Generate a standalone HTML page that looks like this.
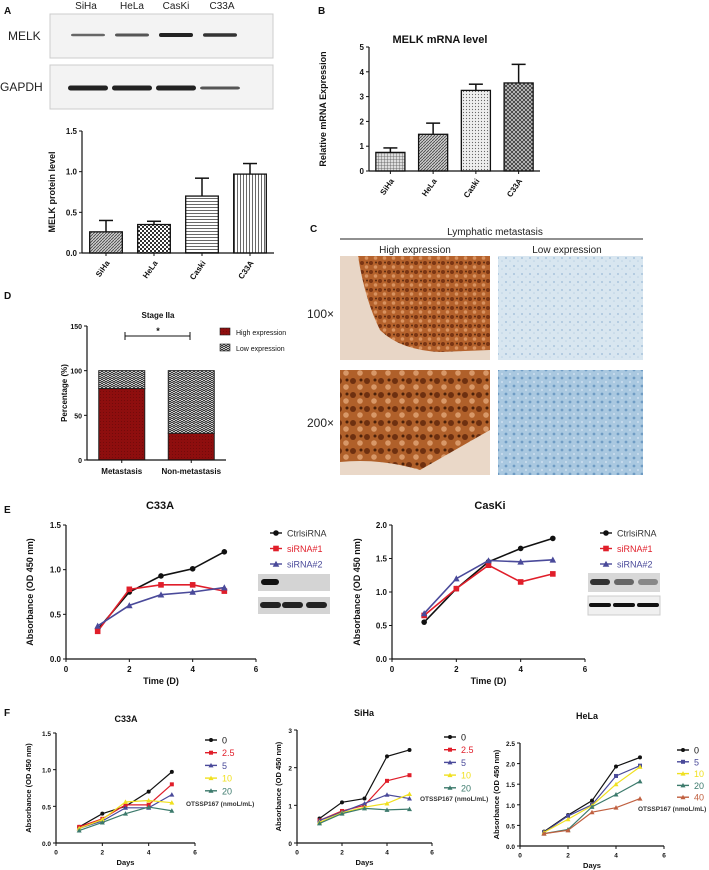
<!DOCTYPE html>
<html><head><meta charset="utf-8">
<style>
html,body{margin:0;padding:0;background:#fff;}
svg{display:block;font-family:"Liberation Sans",Arial,sans-serif;}
</style></head>
<body>
<svg id="fig" width="709" height="870" viewBox="0 0 709 870" xmlns="http://www.w3.org/2000/svg">
<defs>
  <pattern id="pGrid" width="3" height="3" patternUnits="userSpaceOnUse"><rect width="3" height="3" fill="#ddd"/><path d="M0 0H3M0 0V3" stroke="#555" stroke-width="0.8"/></pattern>
  <pattern id="pCheck" width="4" height="4" patternUnits="userSpaceOnUse"><rect width="4" height="4" fill="#fff"/><rect width="2" height="2" fill="#333"/><rect x="2" y="2" width="2" height="2" fill="#333"/></pattern>
  <pattern id="pHor" width="4" height="3" patternUnits="userSpaceOnUse"><rect width="4" height="3" fill="#fff"/><path d="M0 0.5H4" stroke="#444" stroke-width="0.8"/></pattern>
  <pattern id="pVer" width="3" height="4" patternUnits="userSpaceOnUse"><rect width="3" height="4" fill="#fff"/><path d="M0.5 0V4" stroke="#444" stroke-width="0.8"/></pattern>
  <pattern id="pDiag" width="3" height="3" patternUnits="userSpaceOnUse"><rect width="3" height="3" fill="#ccc"/><path d="M0 3L3 0" stroke="#444" stroke-width="0.8"/></pattern>
  <pattern id="pDiag2" width="4" height="4" patternUnits="userSpaceOnUse"><rect width="4" height="4" fill="#ccc"/><path d="M0 4L4 0M0 0L4 4" stroke="#333" stroke-width="0.8"/></pattern>
  <pattern id="pDot" width="3" height="3" patternUnits="userSpaceOnUse"><rect width="3" height="3" fill="#eee"/><circle cx="1.5" cy="1.5" r="0.6" fill="#666"/></pattern>
  <pattern id="pRed" width="3" height="3" patternUnits="userSpaceOnUse"><rect width="3" height="3" fill="#8e0e0e"/><circle cx="1.5" cy="1.5" r="0.5" fill="#6a0808"/></pattern>
  <pattern id="pLow" width="4" height="4" patternUnits="userSpaceOnUse"><rect width="4" height="4" fill="#fff"/><path d="M0 0L2 2L4 0M0 2L2 4L4 2" stroke="#222" stroke-width="0.9" fill="none"/></pattern>
  <pattern id="pBrown" width="9" height="9" patternUnits="userSpaceOnUse"><rect width="9" height="9" fill="#b5622c"/><circle cx="2" cy="2" r="2" fill="#7a3513"/><circle cx="6.5" cy="6" r="1.8" fill="#d89260"/><circle cx="7" cy="1.5" r="1" fill="#5a2a10"/></pattern>
  <pattern id="pBrownBig" width="14" height="14" patternUnits="userSpaceOnUse"><rect width="14" height="14" fill="#b0602a"/><circle cx="3" cy="3" r="3" fill="#6e3010"/><circle cx="10" cy="9" r="2.8" fill="#d89868"/><circle cx="11" cy="2" r="1.5" fill="#4a200a"/></pattern>
  <pattern id="pBlue" width="8" height="8" patternUnits="userSpaceOnUse"><rect width="8" height="8" fill="#d8e6f0"/><circle cx="2" cy="2" r="1" fill="#a8c4dc"/><circle cx="6" cy="5" r="0.8" fill="#bcd2e4"/></pattern>
  <pattern id="pBlue2" width="8" height="8" patternUnits="userSpaceOnUse"><rect width="8" height="8" fill="#a9c8e0"/><circle cx="2" cy="2" r="1.4" fill="#6f9cc4"/><circle cx="6" cy="6" r="1.1" fill="#c8dced"/></pattern>
</defs>
<g id="root"></g>
</svg>
<script>
// ---- data: panel A protein ----
const protCats = ["SiHa","HeLa","Caski","C33A"];
const protVals = [0.26,0.35,0.70,0.97];
const protErr  = [0.14,0.04,0.22,0.13];
const protTicks = ["0.0","0.5","1.0","1.5"];
// ---- panel B mRNA ----
const mrnaCats = ["SiHa","HeLa","Caski","C33A"];
const mrnaVals = [0.75,1.48,3.25,3.55];
const mrnaErr  = [0.18,0.45,0.25,0.75];
const mrnaTicks = ["0","1","2","3","4","5"];
// ---- panel D stage IIa ----
const stageCats = ["Metastasis","Non-metastasis"];
const stageHigh = [80,30];
const stageLow  = [20,70];
const stageTicks = ["0","50","100","150"];
// ---- panel E ----
const days = [1,2,3,4,5];
const eSeriesNames = ["CtrlsiRNA","siRNA#1","siRNA#2"];
const eC33ACtrl = [0.33,0.75,0.93,1.01,1.20];
const eC33As1   = [0.31,0.78,0.83,0.83,0.76];
const eC33As2   = [0.37,0.60,0.72,0.75,0.80];
const eCaskiCtrl = [0.55,1.05,1.45,1.65,1.80];
const eCaskis1   = [0.65,1.05,1.40,1.15,1.27];
const eCaskis2   = [0.68,1.20,1.47,1.45,1.48];
const eTicksC33A = ["0.0","0.5","1.0","1.5"];
const eTicksCaski = ["0.0","0.5","1.0","1.5","2.0"];
const xTicks = ["0","2","4","6"];
// ---- panel F ----
const fC33ADoses = ["0","2.5","5","10","20"];
const fC33A_0   = [0.22,0.40,0.50,0.70,0.97];
const fC33A_2_5 = [0.22,0.33,0.52,0.52,0.80];
const fC33A_5   = [0.20,0.30,0.48,0.48,0.66];
const fC33A_10  = [0.20,0.32,0.56,0.58,0.55];
const fC33A_20  = [0.17,0.28,0.40,0.49,0.44];
const fSiHaDoses = ["0","2.5","5","10","20"];
const fSiHa_0   = [0.65,1.08,1.18,2.30,2.47];
const fSiHa_2_5 = [0.60,0.85,1.00,1.65,1.80];
const fSiHa_5   = [0.60,0.82,1.05,1.28,1.18];
const fSiHa_10  = [0.55,0.80,0.95,1.05,1.30];
const fSiHa_20  = [0.52,0.78,0.92,0.88,0.90];
const fHeLaDoses = ["0","5","10","20","40"];
const fHeLa_0  = [0.35,0.75,1.10,1.93,2.15];
const fHeLa_5  = [0.33,0.73,1.00,1.70,1.95];
const fHeLa_10 = [0.33,0.65,0.98,1.50,1.92];
const fHeLa_20 = [0.30,0.40,0.95,1.25,1.57];
const fHeLa_40 = [0.30,0.38,0.82,0.93,1.15];
const fTicksC33A = ["0.0","0.5","1.0","1.5"];
const fTicksSiHa = ["0","1","2","3"];
const fTicksHeLa = ["0.0","0.5","1.0","1.5","2.0","2.5"];

const NS="http://www.w3.org/2000/svg";
const root=document.getElementById('root');
function el(tag,attrs,parent,text){const e=document.createElementNS(NS,tag);for(const k in attrs)e.setAttribute(k,attrs[k]);if(text!==undefined)e.textContent=text;(parent||root).appendChild(e);return e;}
function txt(x,y,s,size,opts,parent){opts=opts||{};const e=el('text',Object.assign({x:x,y:y,'font-size':size,fill:opts.fill||'#111','text-anchor':opts.anchor||'start','font-weight':opts.weight||'normal'},opts.transform?{transform:opts.transform}:{}),parent,s);return e;}

function yAxis(g,x,yBot,yTop,ticks,max,size,label,labelX){
  el('line',{x1:x,y1:yBot,x2:x,y2:yTop,stroke:'#111','stroke-width':1.2},g);
  ticks.forEach((t,i)=>{const y=yBot-(yBot-yTop)*i/(ticks.length-1);
    el('line',{x1:x-3,y1:y,x2:x,y2:y,stroke:'#111','stroke-width':1},g);
    const tt=txt(x-5,y+3,t,size,{anchor:'end',weight:'bold'},g);
    
    
  });
  if(label){const l=txt(labelX,(yBot+yTop)/2,label,size+1,{anchor:'middle',weight:'bold',transform:`rotate(-90 ${labelX} ${(yBot+yTop)/2})`},g);
    
    }
}

function barChart(name,cfg,cats,vals,errs,fills){
  const g=el('g',{},root);
  
  
  const {x0,x1,yBot,yTop,max,ticks}=cfg;
  const ys=v=>yBot-(yBot-yTop)*v/max;
  const band=(x1-x0)/cats.length;
  cats.forEach((c,i)=>{
    const cx=x0+band*(i+0.5), w=band*0.68;
    const top=ys(vals[i]), et=ys(vals[i]+errs[i]);
    el('line',{x1:cx,y1:top,x2:cx,y2:et,stroke:'#111','stroke-width':1.5},g);
    el('line',{x1:cx-7,y1:et,x2:cx+7,y2:et,stroke:'#111','stroke-width':1.5},g);
    const b=el('rect',{x:cx-w/2,y:top,width:w,height:yBot-top,fill:fills[i],stroke:'#111','stroke-width':1.3},g);
    
    
    el('line',{x1:cx,y1:yBot,x2:cx,y2:yBot+3,stroke:'#111'},g);
    const l=txt(cx+4,yBot+10,c,cfg.fs,{anchor:'end',weight:'bold',transform:`rotate(-55 ${cx+4} ${yBot+10})`},g);
    
    
  });
  el('line',{x1:x0,y1:yBot,x2:x1,y2:yBot,stroke:'#111','stroke-width':1.2},g);
  yAxis(g,x0,yBot,yTop,ticks,max,cfg.fs,cfg.label,cfg.labelX);
}

function marker(g,type,x,y,c,s){
  if(type==='circle')el('circle',{cx:x,cy:y,r:s,fill:c},g);
  else if(type==='square')el('rect',{x:x-s,y:y-s,width:2*s,height:2*s,fill:c},g);
  else el('polygon',{points:`${x},${y-s-0.5} ${x-s-0.5},${y+s} ${x+s+0.5},${y+s}`,fill:c},g);
}
function lineChart(name,cfg,series){
  const g=el('g',{},root);
  
  
  const {x0,x1,yBot,yTop,ymax,ticks}=cfg;
  const xs=v=>x0+(x1-x0)*v/6, ys=v=>yBot-(yBot-yTop)*v/ymax;
  el('line',{x1:x0,y1:yBot,x2:x1,y2:yBot,stroke:'#111','stroke-width':1.2},g);
  xTicks.forEach(t=>{const x=xs(+t);el('line',{x1:x,y1:yBot,x2:x,y2:yBot+3,stroke:'#111'},g);
    const l=txt(x,yBot+cfg.fs+5,t,cfg.fs,{anchor:'middle',weight:'bold'},g);
    
    });
  yAxis(g,x0,yBot,yTop,ticks,ymax,cfg.fs,cfg.label,cfg.labelX);
  const xt=txt((x0+x1)/2,yBot+cfg.fs*2+9,cfg.xlabel,cfg.fs+1,{anchor:'middle',weight:'bold'},g);
  
  
  const tt=txt(cfg.titleX,cfg.titleY,cfg.title,cfg.tfs,{anchor:'middle',weight:'bold'},g);
  
  
  series.forEach(s=>{
    const pts=days.map((d,i)=>xs(d)+','+ys(s.vals[i])).join(' ');
    const pl=el('polyline',{points:pts,fill:'none',stroke:s.color,'stroke-width':cfg.lw||1.4},g);
    
    
    days.forEach((d,i)=>marker(g,s.marker,xs(d),ys(s.vals[i]),s.color,cfg.ms||2.5));
  });
  series.forEach((s,i)=>{
    const ly=cfg.legY+i*cfg.legDy, lx=cfg.legX;
    const lg=el('g',{},g);
    
    
    el('line',{x1:lx,y1:ly,x2:lx+12,y2:ly,stroke:s.color,'stroke-width':1.4},lg);
    marker(lg,s.marker,lx+6,ly,s.color,cfg.ms||2.5);
    txt(lx+17,ly+3.5,s.name,cfg.lfs,{fill:s.tc||s.color},lg);
  });
  if(cfg.note){const n=txt(cfg.noteX,cfg.noteY,cfg.note,6.5,{weight:'bold',fill:'#333'},g);
    
    }
}

[["A",4,14],["B",318,14],["C",310,232],["D",4,299],["E",4,513],["F",4,716]].forEach(p=>{
  const l=txt(p[1],p[2],p[0],10,{weight:'bold'});
  
  
});

(function(){
  const g=el('g',{},root);
  
  
  const lanes=[["SiHa",86],["HeLa",132],["CasKi",176],["C33A",222]];
  lanes.forEach(l=>txt(l[1],9,l[0],10,{anchor:'middle',fill:'#222'},g));
  el('rect',{x:50,y:14,width:223,height:44,fill:'#f3f3f3',stroke:'#ccc'},g);
  el('rect',{x:50,y:65,width:223,height:44,fill:'#f3f3f3',stroke:'#ccc'},g);
  txt(8,40,"MELK",12,{fill:'#222'},g);
  txt(0,91,"GAPDH",12,{fill:'#222'},g);
  const melk=[[88,2.5,'#666'],[132,3,'#555'],[176,4,'#222'],[220,3.5,'#333']];
  melk.forEach(b=>el('rect',{x:b[0]-17,y:35-b[1]/2,width:34,height:b[1],rx:2,fill:b[2]},g));
  const gap=[[88,5,'#222'],[132,5,'#222'],[176,5,'#222'],[220,3,'#555']];
  gap.forEach(b=>el('rect',{x:b[0]-20,y:88-b[1]/2,width:40,height:b[1],rx:2.5,fill:b[2]},g));
})();

barChart('protein-level-chart',{x0:82,x1:274,yBot:253,yTop:131,max:1.5,ticks:protTicks,fs:8,label:"MELK protein level",labelX:55},
  protCats,protVals,protErr,['url(#pDiag)','url(#pCheck)','url(#pHor)','url(#pVer)']);

(function(){const t=txt(440,43,"MELK mRNA level",11,{anchor:'middle',weight:'bold'});
  
  })();
barChart('mrna-level-chart',{x0:369,x1:540,yBot:171,yTop:47,max:5,ticks:mrnaTicks,fs:8,label:"Relative mRNA Expression",labelX:326},
  mrnaCats,mrnaVals,mrnaErr,['url(#pGrid)','url(#pDiag)','url(#pDot)','url(#pDiag2)']);

(function(){
  const g=el('g',{},root);
  
  
  txt(495,235,"Lymphatic metastasis",10,{anchor:'middle',fill:'#222'},g);
  el('line',{x1:340,y1:239,x2:643,y2:239,stroke:'#222','stroke-width':1},g);
  txt(415,253,"High expression",10,{anchor:'middle',fill:'#222'},g);
  txt(567,253,"Low expression",10,{anchor:'middle',fill:'#222'},g);
  txt(307,318,"100×",12,{fill:'#222'},g);
  txt(307,427,"200×",12,{fill:'#222'},g);
  el('rect',{x:340,y:256,width:150,height:104,fill:'url(#pBrown)'},g);
  el('path',{d:'M340 256 L358 256 Q365 300 380 330 Q400 350 440 352 L490 350 L490 360 L340 360Z',fill:'#e8d6c6'},g);
  el('rect',{x:498,y:256,width:145,height:104,fill:'url(#pBlue)'},g);
  el('rect',{x:340,y:370,width:150,height:105,fill:'url(#pBrownBig)'},g);
  el('path',{d:'M340 475 L340 462 Q380 458 420 470 Q455 450 490 430 L490 475Z',fill:'#ead8c8'},g);
  el('rect',{x:498,y:370,width:145,height:105,fill:'url(#pBlue2)'},g);
})();

(function(){
  const g=el('g',{},root);
  
  
  const x0=87,x1=226,yBot=460,yTop=326,max=150;
  const ys=v=>yBot-(yBot-yTop)*v/max;
  txt(158,318,"Stage IIa",8,{anchor:'middle',weight:'bold'},g);
  const band=(x1-x0)/stageCats.length;
  stageCats.forEach((c,i)=>{
    const cx=x0+band*(i+0.5), w=46;
    const hb=el('rect',{x:cx-w/2,y:ys(stageHigh[i]),width:w,height:yBot-ys(stageHigh[i]),fill:'url(#pRed)',stroke:'#222','stroke-width':1},g);
    
    
    const lb=el('rect',{x:cx-w/2,y:ys(stageHigh[i]+stageLow[i]),width:w,height:ys(stageHigh[i])-ys(stageHigh[i]+stageLow[i]),fill:'url(#pLow)',stroke:'#222','stroke-width':1},g);
    
    
    el('line',{x1:cx,y1:yBot,x2:cx,y2:yBot+3,stroke:'#111'},g);
    txt(cx,yBot+14,c,8,{anchor:'middle',weight:'bold'},g);
  });
  el('line',{x1:x0,y1:yBot,x2:x1,y2:yBot,stroke:'#111','stroke-width':1.2},g);
  yAxis(g,x0,yBot,yTop,stageTicks,max,7,"Percentage (%)",67);
  el('path',{d:'M125 332 V340 M125 336 H190 M190 332 V340',stroke:'#111','stroke-width':1,fill:'none'},g);
  txt(158,334,"*",9,{anchor:'middle',weight:'bold'},g);
  el('rect',{x:220,y:328,width:10,height:7,fill:'url(#pRed)',stroke:'#222','stroke-width':0.6},g);
  txt(236,335,"High expression",7,{},g);
  el('rect',{x:220,y:344,width:10,height:7,fill:'url(#pLow)',stroke:'#222','stroke-width':0.6},g);
  txt(236,351,"Low expression",7,{},g);
})();

const eCfgBase={fs:8,tfs:11,xlabel:"Time (D)",label:"Absorbance (OD 450 nm)",lfs:9,legDy:15.5,ms:2.8,lw:1.6};
lineChart('growth-chart-c33a',Object.assign({},eCfgBase,{x0:66,x1:256,yBot:659,yTop:525,ymax:1.5,ticks:eTicksC33A,labelX:33,title:"C33A",titleX:160,titleY:509,legX:270,legY:533}),[
  {name:eSeriesNames[0],vals:eC33ACtrl,color:'#111',marker:'circle',tc:'#333'},
  {name:eSeriesNames[1],vals:eC33As1,color:'#e01e2a',marker:'square'},
  {name:eSeriesNames[2],vals:eC33As2,color:'#4a4a9a',marker:'tri'}]);
lineChart('growth-chart-caski',Object.assign({},eCfgBase,{x0:392,x1:585,yBot:659,yTop:525,ymax:2.0,ticks:eTicksCaski,labelX:360,title:"CasKi",titleX:490,titleY:509,legX:600,legY:533}),[
  {name:eSeriesNames[0],vals:eCaskiCtrl,color:'#111',marker:'circle',tc:'#333'},
  {name:eSeriesNames[1],vals:eCaskis1,color:'#e01e2a',marker:'square'},
  {name:eSeriesNames[2],vals:eCaskis2,color:'#4a4a9a',marker:'tri'}]);
(function(){
  const g=el('g',{},root);
  
  
  el('rect',{x:258,y:574,width:72,height:17,fill:'#d4d4d4'},g);
  el('rect',{x:261,y:579,width:18,height:6,rx:3,fill:'#111'},g);
  el('rect',{x:258,y:597,width:72,height:17,fill:'#d4d4d4'},g);
  [270,292,316].forEach(x=>el('rect',{x:x-10,y:602,width:21,height:6,rx:3,fill:'#222'},g));
  el('rect',{x:588,y:573,width:72,height:19,fill:'#d8d8d8'},g);
  [[600,'#333'],[624,'#666'],[648,'#888']].forEach(b=>el('rect',{x:b[0]-10,y:579,width:20,height:6,rx:3,fill:b[1]},g));
  el('rect',{x:588,y:596,width:72,height:19,fill:'#f0f0f0',stroke:'#ccc'},g);
  [600,624,648].forEach(x=>el('rect',{x:x-11,y:603,width:22,height:4,rx:2,fill:'#111'},g));
})();

const fBase={fs:6.5,tfs:9,xlabel:"Days",label:"Absorbance (OD 450 nm)",lfs:9,legDy:12.7,ms:2,lw:1.2};
const fColors=['#111','#e01e2a','#4a4a9a','#f0e020','#3c7a6c'];
const fMarks=['circle','square','tri','tri','tri'];
lineChart('otssp-chart-c33a',Object.assign({},fBase,{x0:56,x1:195,yBot:843,yTop:733,ymax:1.5,ticks:fTicksC33A,labelX:31,title:"C33A",titleX:126,titleY:722,legX:205,legY:740,note:"OTSSP167 (nmoL/mL)",noteX:186,noteY:806}),
  [fC33A_0,fC33A_2_5,fC33A_5,fC33A_10,fC33A_20].map((v,i)=>({name:fC33ADoses[i],vals:v,color:fColors[i],marker:fMarks[i]})));
lineChart('otssp-chart-siha',Object.assign({},fBase,{x0:297,x1:432,yBot:843,yTop:730,ymax:3,ticks:fTicksSiHa,labelX:281,title:"SiHa",titleX:364,titleY:716,legX:444,legY:737,note:"OTSSP167 (nmoL/mL)",noteX:420,noteY:801}),
  [fSiHa_0,fSiHa_2_5,fSiHa_5,fSiHa_10,fSiHa_20].map((v,i)=>({name:fSiHaDoses[i],vals:v,color:fColors[i],marker:fMarks[i]})));
const hColors=['#111','#4a4a9a','#f0e020','#3c7a6c','#c06040'];
const hMarks=['circle','square','tri','tri','tri'];
lineChart('otssp-chart-hela',Object.assign({},fBase,{x0:520,x1:664,yBot:846,yTop:743,ymax:2.5,ticks:fTicksHeLa,labelX:499,title:"HeLa",titleX:587,titleY:719,legX:677,legY:750,legDy:11.8,note:"OTSSP167 (nmoL/mL)",noteX:638,noteY:811}),
  [fHeLa_0,fHeLa_5,fHeLa_10,fHeLa_20,fHeLa_40].map((v,i)=>({name:fHeLaDoses[i],vals:v,color:hColors[i],marker:hMarks[i]})));
</script>
</body></html>
